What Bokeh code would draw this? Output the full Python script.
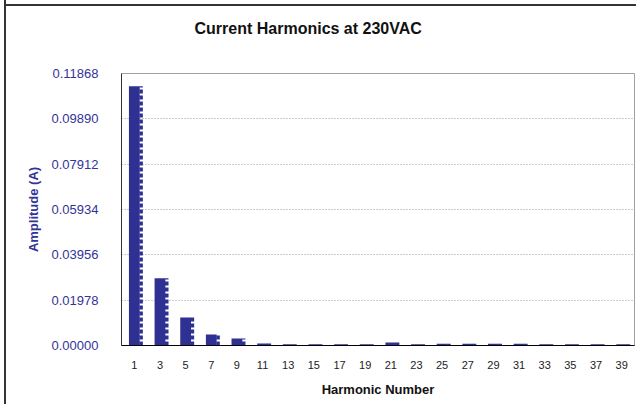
from bokeh.plotting import figure
from bokeh.models import FactorRange, Range1d, FixedTicker, PrintfTickFormatter, ColumnDataSource, Title
from bokeh.transform import dodge
from bokeh.embed import file_html
from bokeh.resources import INLINE

# ---- data ----
harmonics = ["1", "3", "5", "7", "9", "11", "13", "15", "17", "19",
             "21", "23", "25", "27", "29", "31", "33", "35", "37", "39"]
amplitude = [0.1131, 0.0293, 0.0122, 0.0048, 0.0031, 0.0009, 0.0005, 0.0005, 0.0005, 0.0005,
             0.0013, 0.0005, 0.0008, 0.0008, 0.0008, 0.0008, 0.0005, 0.0005, 0.0005, 0.0005]
y_ticks = [0.0, 0.01978, 0.03956, 0.05934, 0.07912, 0.09890, 0.11868]

title_text = "Current Harmonics at 230VAC"
x_label = "Harmonic Number"
y_label = "Amplitude (A)"

BAR = "#2E3192"
BLUE = "#333399"
FONT = "Liberation Sans"

src = ColumnDataSource(dict(h=harmonics, a=amplitude, z=[0.0] * len(amplitude)))

p = figure(width=636, height=404, output_backend="svg", toolbar_location=None,
           x_range=FactorRange(*harmonics, range_padding=0),
           y_range=Range1d(0, y_ticks[-1]),
           min_border_left=121, min_border_right=2, min_border_top=73, min_border_bottom=59,
           background_fill_color="white", border_fill_color=None)

# invisible spacer panel between the frame and the title
p.add_layout(Title(text=" ", text_font_size="2px", standoff=28), "above")

p.title.text = title_text
p.title.align = "left"
p.title.offset = 73
p.title.standoff = 10
p.title.text_font = FONT
p.title.text_font_size = "16px"
p.title.text_font_style = "bold"
p.title.text_color = "#111111"

p.vbar(x=dodge("h", 0.0, range=p.x_range), top="a", bottom=0, width=0.42,
       source=src, fill_color=BAR, line_color=None)
p.segment(x0=dodge("h", 0.265, range=p.x_range), x1=dodge("h", 0.265, range=p.x_range),
          y0="z", y1="a", source=src, line_color=BAR, line_width=3.5,
          line_dash="4 2", line_cap="butt")

p.outline_line_color = "#a0a0a0"
p.xgrid.grid_line_color = None
p.ygrid.grid_line_color = "#999999"
p.ygrid.grid_line_dash = "1 2"
p.ygrid.ticker = FixedTicker(ticks=y_ticks)

ya = p.yaxis[0]
ya.ticker = FixedTicker(ticks=y_ticks)
ya.formatter = PrintfTickFormatter(format="%.5f")
ya.major_tick_out = 0
ya.major_tick_in = 0
ya.minor_tick_out = 0
ya.minor_tick_in = 0
ya.major_label_standoff = 23
ya.major_label_text_font = FONT
ya.major_label_text_font_size = "13px"
ya.major_label_text_color = BLUE
ya.axis_line_color = "#333333"
ya.axis_label = y_label
ya.axis_label_text_font = FONT
ya.axis_label_text_font_size = "13px"
ya.axis_label_text_font_style = "bold"
ya.axis_label_text_color = BLUE
ya.axis_label_standoff = 8

xa = p.xaxis[0]
xa.major_tick_out = 0
xa.major_tick_in = 0
xa.major_label_standoff = 15
xa.major_label_text_font = FONT
xa.major_label_text_font_size = "11px"
xa.major_label_text_color = "#222222"
xa.axis_line_color = "black"
xa.axis_label = x_label
xa.axis_label_text_font = FONT
xa.axis_label_text_font_size = "13px"
xa.axis_label_text_font_style = "bold"
xa.axis_label_text_color = "#111111"
xa.axis_label_standoff = 10

p.styles = {
    "background": ("linear-gradient(#333333, #333333) 4px 0px / 2px 100% no-repeat, "
                   "linear-gradient(#333333, #333333) 4px 4px / 100% 2px no-repeat, white"),
}

open("out.html", "w").write(file_html(p, INLINE))
